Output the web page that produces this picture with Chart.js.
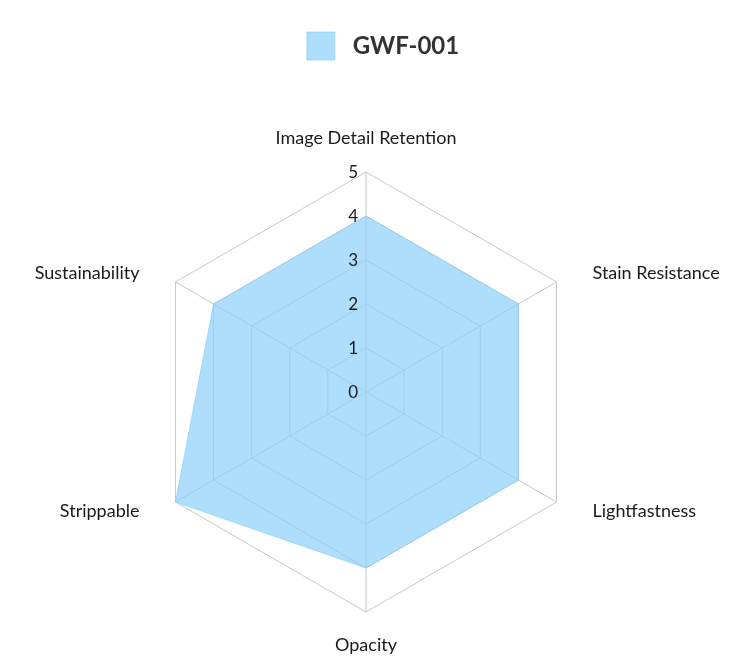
<!DOCTYPE html>
<html>
<head>
<meta charset="utf-8">
<script src="https://cdn.jsdelivr.net/npm/chart.js@4.4.0/dist/chart.umd.min.js"></script>
<style>
  html, body { margin: 0; padding: 0; background: #ffffff; }
  #wrap { width: 750px; height: 669px; position: relative; }
</style>
</head>
<body>
<div id="wrap"><canvas id="c"></canvas></div>
<script>
const categories = ["Image Detail Retention", "Stain Resistance", "Lightfastness", "Opacity", "Strippable", "Sustainability"];
const seriesName = "GWF-001";
const seriesValues = [4, 4, 4, 4, 5, 4];
const tickValues = [0, 1, 2, 3, 4, 5];

const FONT = "Lato, 'Open Sans', sans-serif";
const TEXT_COLOR = '#1a1a1a';

// Reserve a fixed band for the legend and nudge it to the reference position
const legendTweaks = {
  id: 'legendTweaks',
  beforeInit(chart) {
    const lg = chart.legend;
    const origFit = lg.fit;
    lg.fit = function () {
      origFit.call(this);
      this.height = 154;
    };
    const origDraw = lg.draw;
    lg.draw = function () {
      const ctx = this.ctx;
      ctx.save();
      ctx.translate(17, 0);
      origDraw.call(this);
      ctx.restore();
    };
  }
};

// Tick labels drawn above the filled area, just left of the vertical axis
const tickLabels = {
  id: 'tickLabels',
  afterDatasetsDraw(chart) {
    const r = chart.scales.r;
    const ctx = chart.ctx;
    ctx.save();
    ctx.font = "17px " + FONT;
    ctx.fillStyle = TEXT_COLOR;
    ctx.textAlign = 'right';
    ctx.textBaseline = 'middle';
    tickValues.forEach(v => {
      const d = r.getDistanceFromCenterForValue(v);
      ctx.fillText(String(v), r.xCenter - 8, r.yCenter - d + 1);
    });
    ctx.restore();
  }
};

// Category labels placed around the outer ring
const pointLabelsPlugin = {
  id: 'pointLabelsCustom',
  afterDraw(chart) {
    const r = chart.scales.r;
    const ctx = chart.ctx;
    ctx.save();
    ctx.font = "18px " + FONT;
    ctx.fillStyle = TEXT_COLOR;
    ctx.textBaseline = 'middle';
    categories.forEach((lab, i) => {
      const p = r.getPointPosition(i, r.drawingArea);
      const dx = p.x - r.xCenter;
      let x, y;
      if (Math.abs(dx) < 1) {
        ctx.textAlign = 'center';
        x = p.x;
        y = p.y < r.yCenter ? p.y - 34 : p.y + 33;
      } else {
        ctx.textAlign = dx > 0 ? 'left' : 'right';
        x = dx > 0 ? p.x + 36 : p.x - 36;
        y = p.y < r.yCenter ? p.y - 9 : p.y + 9;
      }
      ctx.fillText(lab, x, y);
    });
    ctx.restore();
  }
};

new Chart(document.getElementById('c'), {
  type: 'radar',
  data: {
    labels: categories,
    datasets: [{
      label: seriesName,
      data: seriesValues,
      backgroundColor: 'rgba(135, 206, 250, 0.68)',
      borderColor: 'rgba(135, 206, 250, 0.68)',
      borderWidth: 1,
      pointRadius: 0,
      pointHoverRadius: 0
    }]
  },
  plugins: [legendTweaks, tickLabels, pointLabelsPlugin],
  options: {
    responsive: true,
    maintainAspectRatio: false,
    animation: false,
    layout: { padding: { top: 18, bottom: 57, left: 0, right: 18 } },
    plugins: {
      legend: {
        position: 'top',
        labels: {
          boxWidth: 28,
          boxHeight: 28,
          padding: 14,
          color: '#333333',
          font: { family: FONT, size: 24, weight: 'bold' },
          generateLabels: (chart) => Chart.defaults.plugins.legend.labels.generateLabels(chart).map(l => ({ ...l, text: ' ' + l.text }))
        }
      },
      tooltip: { enabled: false }
    },
    scales: {
      r: {
        min: 0,
        max: 5,
        afterBuildTicks: (axis) => { axis.ticks = tickValues.map(v => ({ value: v })); },
        ticks: { display: false, stepSize: 1 },
        grid: { color: '#c8c8c8', lineWidth: 1 },
        angleLines: { color: '#c8c8c8', lineWidth: 1 },
        pointLabels: { display: false }
      }
    }
  }
});
</script>
</body>
</html>
